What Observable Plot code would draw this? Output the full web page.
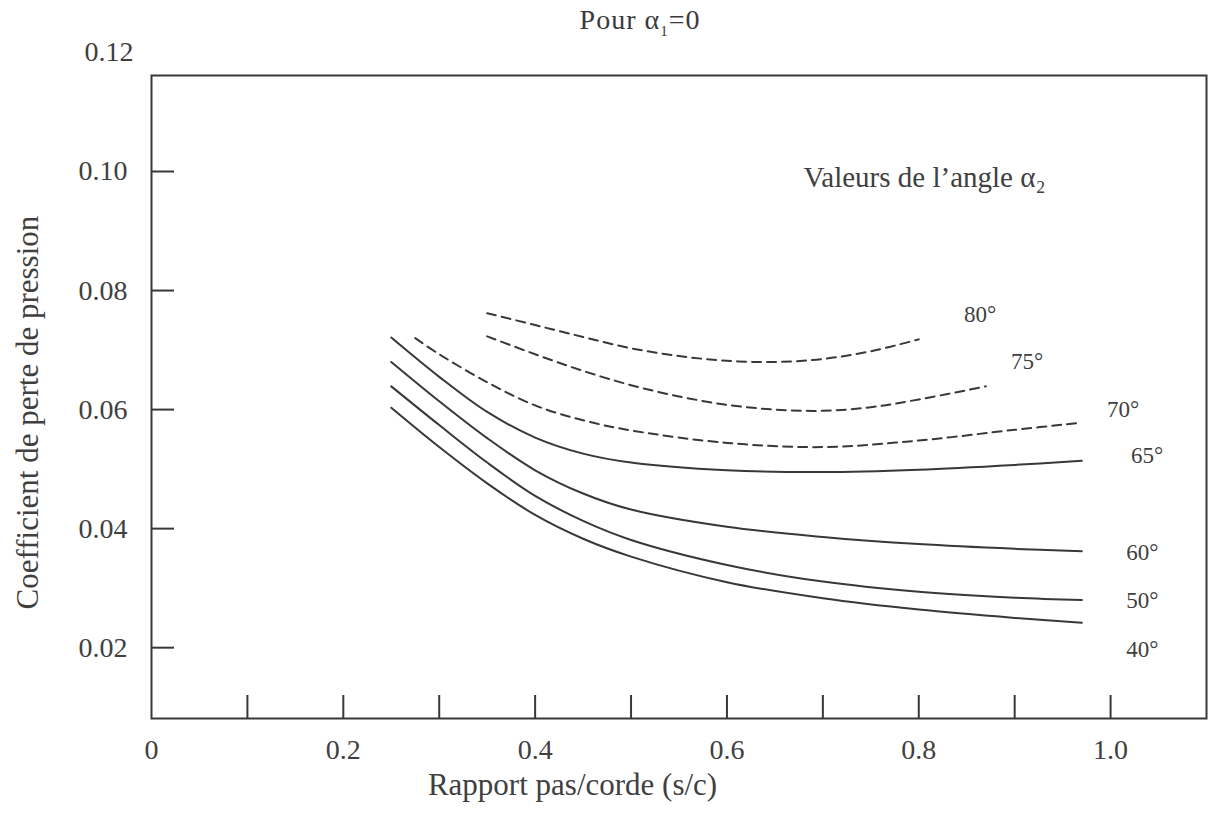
<!DOCTYPE html>
<html>
<head>
<meta charset="utf-8">
<script src="https://cdn.jsdelivr.net/npm/d3@7"></script>
<script src="https://cdn.jsdelivr.net/npm/@observablehq/plot@0.6"></script>
<style>
  body { margin: 0; background: #fff; }
  #wrap { position: relative; width: 1208px; height: 813px; overflow: hidden; }
  #title { position: absolute; left: 520px; top: 4px; width: 240px; text-align: center;
           font-family: "Liberation Serif", "Times New Roman", serif; font-size: 28px; color: #3a3a3a; letter-spacing: 1px; }
  #title sub { font-size: 15px; }
</style>
</head>
<body>
<div id="wrap">
  <div id="chart"></div>
  <div id="title">Pour α<sub>1</sub>=0</div>
</div>
<script>
// Axis ticks and labels
const xLabelTicks = [0, 0.2, 0.4, 0.6, 0.8, 1.0];
const xTickMarks = [0.1, 0.2, 0.3, 0.4, 0.5, 0.6, 0.7, 0.8, 0.9, 1.0];
const yLabelTicks = [0.02, 0.04, 0.06, 0.08, 0.10];
const yTopLabel = [0.12];
const yTickMarks = [0.02, 0.04, 0.06, 0.08, 0.10];

// Series: outlet angle alpha2
const angles = ["40°", "50°", "60°", "65°", "70°", "75°", "80°"];
const dashedAngles = ["70°", "75°", "80°"];

const sc40 = [0.25, 0.30, 0.35, 0.40, 0.45, 0.50, 0.60, 0.70, 0.80, 0.90, 0.97];
const k40  = [0.0603, 0.0537, 0.0476, 0.0423, 0.0383, 0.0353, 0.0310, 0.0283, 0.0264, 0.0250, 0.0242];
const sc50 = [0.25, 0.30, 0.35, 0.40, 0.45, 0.50, 0.60, 0.70, 0.80, 0.90, 0.97];
const k50  = [0.0639, 0.0574, 0.0511, 0.0455, 0.0413, 0.0381, 0.0339, 0.0311, 0.0294, 0.0284, 0.0280];
const sc60 = [0.25, 0.30, 0.35, 0.40, 0.45, 0.50, 0.60, 0.70, 0.80, 0.90, 0.97];
const k60  = [0.0680, 0.0614, 0.0552, 0.0498, 0.0459, 0.0432, 0.0403, 0.0386, 0.0374, 0.0366, 0.0362];
const sc65 = [0.25, 0.30, 0.35, 0.40, 0.45, 0.50, 0.60, 0.70, 0.80, 0.90, 0.97];
const k65  = [0.0721, 0.0655, 0.0596, 0.0553, 0.0526, 0.0511, 0.0498, 0.0495, 0.0499, 0.0507, 0.0514];
const sc70 = [0.275, 0.30, 0.35, 0.40, 0.45, 0.50, 0.60, 0.70, 0.80, 0.90, 0.97];
const k70  = [0.0720, 0.0693, 0.0646, 0.0607, 0.0582, 0.0565, 0.0544, 0.0537, 0.0548, 0.0566, 0.0578];
const sc75 = [0.35, 0.40, 0.45, 0.50, 0.55, 0.60, 0.65, 0.70, 0.75, 0.80, 0.87];
const k75  = [0.0723, 0.0693, 0.0665, 0.0641, 0.0622, 0.0608, 0.0600, 0.0598, 0.0604, 0.0617, 0.0639];
const sc80 = [0.35, 0.40, 0.45, 0.50, 0.55, 0.60, 0.65, 0.70, 0.75, 0.80];
const k80  = [0.0762, 0.0742, 0.0722, 0.0703, 0.0690, 0.0682, 0.0680, 0.0685, 0.0698, 0.0718];

// Curve label anchors (data units), same order as angles
const labelX = [1.033, 1.033, 1.033, 1.038, 1.013, 0.913, 0.864];
const labelY = [0.0197, 0.0279, 0.0360, 0.0523, 0.0600, 0.0681, 0.0759];

// Annotation texts
const legendNote = [{x: 0.806, y: 0.0990, text: "Valeurs de l’angle α₂"}];
const xTitle = [{x: 0.439, text: "Rapport pas/corde (s/c)"}];
const yTitle = [{y: 0.0595, text: "Coefficient de perte de pression"}];

const seriesX = [sc40, sc50, sc60, sc65, sc70, sc75, sc80];
const seriesY = [k40, k50, k60, k65, k70, k75, k80];
const rows = angles.flatMap((a, i) => seriesX[i].map((s, j) => ({angle: a, sc: s, k: seriesY[i][j], dashed: dashedAngles.includes(a)})));
const labels = angles.map((a, i) => ({angle: a, x: labelX[i], y: labelY[i]}));

const W = 1208, H = 813;
const mL = 151, mR = 2, mT = 75, mB = 95;
const frameW = W - mL - mR, frameH = H - mT - mB;
const ink = "#383838", txt = "#404040";
const serif = "'Liberation Serif', 'Times New Roman', serif";

const chart = Plot.plot({
  width: W, height: H,
  marginLeft: mL, marginRight: mR, marginTop: mT, marginBottom: mB,
  style: {fontFamily: serif, fontSize: "28px", color: txt, background: "transparent"},
  x: {domain: [0, 1.1], axis: null},
  y: {type: "linear", domain: [0.0081, 0.10, 0.12], range: [H - mB, 171, mT], axis: null},
  marks: [
    Plot.frame({stroke: ink, strokeWidth: 2}),
    Plot.tickX(xTickMarks, {x: d => d, insetTop: frameH - 23, stroke: ink, strokeWidth: 2}),
    Plot.tickY(yTickMarks, {y: d => d, insetRight: frameW - 23, stroke: ink, strokeWidth: 2}),
    Plot.axisX({ticks: xLabelTicks, tickSize: 0, tickPadding: 21, label: null, fill: txt, fontSize: 28,
                tickFormat: d => d === 0 ? "0" : d.toFixed(1)}),
    Plot.axisY({ticks: yLabelTicks, tickSize: 0, tickPadding: 24, label: null, fill: txt, fontSize: 28,
                tickFormat: d => d.toFixed(2)}),
    Plot.axisY({ticks: yTopLabel, tickSize: 0, tickPadding: 18, dy: -23, label: null, fill: txt, fontSize: 28,
                tickFormat: d => d.toFixed(2)}),
    Plot.line(rows.filter(d => !d.dashed), {x: "sc", y: "k", z: "angle", curve: "catmull-rom",
                stroke: ink, strokeWidth: 2}),
    Plot.line(rows.filter(d => d.dashed), {x: "sc", y: "k", z: "angle", curve: "catmull-rom",
                stroke: ink, strokeWidth: 2, strokeDasharray: "9,6"}),
    Plot.text(labels, {x: "x", y: "y", text: "angle", fill: txt, fontSize: 23}),
    Plot.text(legendNote, {x: "x", y: "y", text: "text", fill: txt, fontSize: 29}),
    Plot.text(xTitle, {x: "x", text: "text", frameAnchor: "bottom", dy: 76, fill: txt, fontSize: 31}),
    Plot.text(yTitle, {y: "y", text: "text", frameAnchor: "left", textAnchor: "middle", rotate: -90, dx: -123,
                fill: txt, fontSize: 31})
  ]
});
document.getElementById("chart").appendChild(chart);
</script>
</body>
</html>
